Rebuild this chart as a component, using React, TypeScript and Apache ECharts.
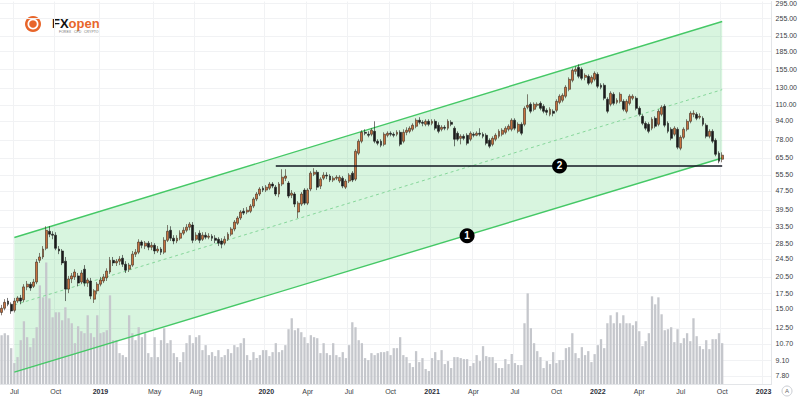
import React, { useEffect, useRef } from "react";
import * as echarts from "echarts";

// ---------- data ----------
const START_UTC = Date.UTC(2018, 5, 4); // first weekly bar (Mon)
const SLOT_COUNT = 242; // weekly slots incl. empty future weeks

const X_LABELS: [number, string][] = [
  [4, "Jul"], [17, "Oct"], [31, "2019"], [48, "May"], [61, "Aug"],
  [83, "2020"], [96, "Apr"], [109, "Jul"], [122, "Oct"],
  [135, "2021"], [148, "Apr"], [161, "Jul"], [174, "Oct"],
  [187, "2022"], [200, "Apr"], [213, "Jul"], [226, "Oct"], [239, "2023"],
];

const Y_TICKS = [295, 255, 215, 185, 155, 130, 110, 94, 78, 65.5, 55.5, 47.5, 39.5, 33.5, 28.5, 24.5, 20.5, 17.5, 15, 12.5, 10.7, 9.1, 7.8];
const PRICE_MIN = 7.214;
const PRICE_MAX = 300.8;

// [open, close, low, high]
const CANDLES: [number, number, number, number][] = [
  [14.5,15.1,14.1,15.6],[15.1,16.0,14.8,16.5],[16.2,15.7,15.4,16.7],[15.7,14.7,14.3,16.0],[14.8,16.2,14.5,16.7],
  [16.2,16.7,15.9,17.0],[16.7,16.2,15.7,17.2],[16.4,18.6,16.0,19.1],[18.6,19.1,18.0,19.7],[19.1,18.4,17.9,19.5],
  [18.7,19.5,18.4,20.1],[19.5,23.7,19.1,24.4],[24.1,24.9,23.5,25.9],[24.9,26.9,24.4,27.7],[27.1,32.3,26.6,33.6],
  [32.0,31.1,30.2,33.6],[31.1,30.8,29.6,32.0],[30.8,27.1,26.6,31.7],[26.9,26.4,25.6,27.7],[26.4,23.5,23.0,26.9],
  [23.9,18.2,16.2,24.9],[18.2,20.1,17.5,20.7],[20.1,20.7,19.3,21.3],[20.5,21.5,19.9,22.1],[20.7,19.3,18.7,21.3],
  [19.5,21.3,19.1,21.9],[22.1,19.3,18.7,23.0],[19.3,19.9,18.6,20.3],[19.7,17.0,16.5,20.3],[16.5,17.9,15.9,18.2],
  [17.9,19.1,17.3,19.5],[19.1,19.9,18.7,20.5],[19.7,20.5,19.3,21.1],[20.3,21.7,19.7,22.3],[21.5,24.1,21.1,24.9],
  [24.1,23.5,22.8,24.9],[23.5,23.9,22.8,24.4],[23.9,24.4,23.0,25.1],[24.6,23.2,22.6,25.4],[23.2,21.9,21.3,23.9],
  [22.1,23.0,21.5,23.5],[23.0,25.6,22.6,26.4],[25.6,26.1,24.9,26.9],[26.1,28.8,25.6,29.6],[28.8,27.9,27.1,29.3],
  [27.7,28.5,26.9,29.1],[28.5,27.4,26.6,29.1],[27.4,27.9,26.6,28.8],[27.9,26.4,25.6,28.5],[26.4,26.9,25.9,27.7],
  [26.9,26.1,25.4,27.4],[26.1,29.3,25.6,30.2],[29.3,32.0,28.8,34.0],[32.3,29.9,29.1,33.6],[29.9,29.1,28.2,30.8],
  [29.1,29.9,28.5,30.8],[29.9,31.4,29.3,32.3],[31.4,32.3,30.8,33.3],[32.3,33.3,31.7,34.3],[33.3,34.3,32.3,35.0],
  [34.0,29.3,28.5,35.0],[29.6,30.8,29.1,31.7],[31.4,29.3,28.5,32.3],[29.6,30.8,29.1,31.7],[30.8,30.2,29.6,31.7],
  [30.2,30.5,29.6,31.4],[30.5,29.9,29.1,31.1],[29.9,29.3,28.5,30.8],[29.6,28.5,27.7,30.2],[29.1,28.2,27.1,29.9],
  [28.5,29.6,27.9,30.5],[29.6,31.1,29.1,31.7],[31.1,32.7,30.5,33.3],[32.7,35.0,32.0,35.7],[34.6,36.4,34.0,37.1],
  [36.4,38.6,35.7,39.3],[38.9,38.2,37.5,40.1],[38.6,39.3,37.8,40.5],[38.9,40.9,38.2,41.7],[40.9,43.8,40.1,44.6],
  [43.8,46.0,42.9,46.9],[46.0,48.3,45.1,49.2],[48.7,47.8,46.9,49.7],[47.8,49.2,46.9,50.2],[48.7,50.7,47.8,51.7],
  [50.7,49.7,48.7,51.7],[49.2,46.0,45.1,50.2],[46.0,50.7,44.6,51.7],[50.7,54.2,49.7,58.6],[53.7,54.8,52.2,58.6],
  [51.2,45.1,44.2,52.2],[45.5,46.4,44.2,47.8],[46.0,41.7,40.5,46.9],[38.6,42.1,36.4,42.9],[41.7,46.0,40.9,46.9],
  [47.8,42.1,41.3,48.7],[42.1,47.8,41.3,48.7],[48.3,56.4,47.3,57.5],[55.8,56.9,54.8,59.2],[56.9,49.2,47.8,58.1],
  [49.7,53.2,48.3,54.2],[53.7,55.3,52.7,56.9],[55.3,54.8,53.2,56.9],[54.8,52.7,51.7,55.8],[52.7,53.7,51.7,54.8],
  [53.7,54.2,52.7,55.3],[52.2,54.2,51.2,55.3],[53.7,49.7,48.7,54.8],[49.2,52.2,48.3,53.2],[52.2,55.3,51.2,56.4],
  [56.4,52.7,51.7,57.5],[53.2,69.8,52.2,71.2],[68.5,77.0,67.2,78.5],[77.0,84.0,75.5,85.7],[84.0,83.2,81.6,86.5],
  [82.4,81.6,80.0,84.8],[82.4,85.7,80.8,87.4],[84.8,77.0,75.5,93.5],[77.0,75.5,74.0,78.5],[77.0,74.0,72.6,78.5],
  [74.7,82.4,73.3,84.0],[81.6,83.2,80.0,84.8],[83.2,82.4,80.8,84.8],[82.4,81.6,80.0,84.0],[82.4,84.0,80.8,85.7],
  [84.0,74.7,73.3,85.7],[77.0,84.0,75.5,86.5],[84.0,85.7,81.6,88.2],[84.8,87.4,83.2,89.1],[86.5,90.0,84.8,91.7],
  [89.1,94.5,87.4,96.3],[94.5,92.6,90.8,97.3],[92.6,91.7,89.1,94.5],[90.8,93.5,89.1,95.4],[93.5,90.8,89.1,95.4],
  [91.7,93.5,90.0,95.4],[93.5,87.4,85.7,95.4],[90.0,84.8,83.2,92.6],[86.5,88.2,84.8,90.0],[88.2,87.4,85.7,90.0],
  [87.4,93.5,85.7,95.4],[92.6,90.8,89.1,94.5],[87.4,78.5,73.3,89.1],[83.2,78.5,77.0,84.8],[79.2,80.8,74.7,82.4],
  [80.8,79.2,77.7,82.4],[81.6,75.5,74.0,83.2],[78.5,83.2,77.0,84.8],[82.4,81.6,80.0,84.0],[81.6,83.2,80.8,84.8],
  [83.2,82.4,80.8,87.4],[82.4,80.8,79.2,84.0],[81.6,75.5,74.0,83.2],[77.7,73.3,71.9,79.2],[74.7,79.2,73.3,80.8],
  [78.5,81.6,77.0,83.2],[80.8,84.8,79.2,86.5],[82.4,85.7,80.8,87.4],[84.0,87.4,82.4,89.1],[86.5,89.1,84.8,90.8],
  [86.5,94.5,84.8,96.3],[94.5,87.4,85.7,96.3],[84.8,90.8,83.2,92.6],[90.8,83.2,81.6,92.6],[90.8,106.1,89.1,108.2],
  [107.2,109.3,105.1,121.7],[110.4,103.1,101.1,112.5],[105.1,110.4,103.1,112.5],[109.3,110.4,107.2,112.5],[111.4,106.1,104.1,113.6],
  [108.2,103.1,101.1,110.4],[104.1,102.1,99.2,106.1],[100.1,105.1,98.2,107.2],[103.1,101.1,98.2,105.1],[104.1,113.6,102.1,115.9],
  [112.5,119.4,110.4,121.7],[114.8,120.5,112.5,122.9],[119.4,130.3,117.1,132.9],[127.8,140.8,125.3,143.6],[139.5,153.7,136.8,156.7],
  [152.2,155.2,147.8,159.8],[158.2,145.0,142.2,162.9],[155.2,142.2,139.5,158.2],[143.6,146.4,139.5,149.3],[145.0,135.5,132.9,147.8],
  [136.8,143.6,134.2,146.4],[140.8,149.3,138.1,152.2],[147.8,131.6,129.1,150.7],[132.9,130.3,127.8,135.5],[132.9,117.1,114.8,135.5],
  [115.9,103.1,101.1,118.2],[110.4,122.9,108.2,125.3],[121.7,111.4,109.3,124.1],[112.5,114.8,110.4,117.1],[113.6,121.7,111.4,124.1],
  [113.6,105.1,103.1,115.9],[103.1,113.6,101.1,115.9],[111.4,119.4,109.3,121.7],[117.1,119.4,114.8,121.7],[117.1,106.1,104.1,119.4],
  [106.1,100.1,98.2,108.2],[98.2,91.7,90.0,100.1],[91.7,87.4,85.7,93.5],[90.8,84.8,83.2,92.6],[87.4,95.4,85.7,97.3],
  [96.3,89.1,87.4,98.2],[90.8,103.1,89.1,105.1],[100.1,107.2,98.2,109.3],[108.2,90.0,88.2,110.4],[91.7,84.8,83.2,93.5],
  [86.5,79.2,77.7,88.2],[82.4,87.4,80.8,89.1],[86.5,72.6,71.2,88.2],[71.9,80.0,70.5,81.6],[80.0,86.5,78.5,88.2],
  [86.5,93.5,84.8,95.4],[93.5,101.1,91.7,103.1],[100.1,101.1,97.3,104.1],[100.1,96.3,94.5,102.1],[97.3,98.2,95.4,101.1],
  [96.3,90.8,89.1,98.2],[90.0,80.8,79.2,91.7],[80.8,84.8,79.2,86.5],[84.8,77.0,75.5,86.5],[77.7,67.8,66.5,79.2],
  [68.5,63.4,62.1,69.8],[64.6,67.2,62.7,69.1],
];

const VOLUME: number[] = [
  49,51,49,36,21,27,44,63,47,37, 46,57,99,87,122,86,67,72,72,64,
  77,66,61,41,58,53,51,69,51,47, 69,51,52,54,89,44,44,31,29,27,
  69,51,44,57,47,51,31,27,47,27, 44,56,41,44,31,27,22,32,41,49,
  41,47,49,34,39,29,32,28,34,27, 29,35,31,39,37,41,46,29,24,32,
  26,29,34,34,28,32,41,32,34,39, 55,66,54,56,52,47,41,49,47,46,
  31,41,31,29,41,29,27,32,26,39, 62,57,44,41,26,24,31,29,31,32,
  32,33,29,36,36,
  47,29,27,21,17,33,22,26,15,13, 26,32,24,34,20,23,16,27,27,26,
  25,25,18,21,29,23,38,28,27,27, 21,16,16,25,20,30,21,19,19,61,
  91,56,41,33,27,16,23,20,32,21, 24,24,36,37,51,31,26,37,29,33,
  22,30,39,45,36,61,69,61,72,61, 69,61,61,59,63,53,38,43,51,88,
  80,87,70,54,55,57,42,55,41,46, 51,43,66,48,38,35,44,35,45,45,
  51,41,
];
const VOLUME_AXIS_MAX = 384;

// channel (parallel lines), [price at start, price at end]
const CHANNEL_START = 4;
const CHANNEL_END = 226;
const CHANNEL_UPPER = [30.1, 247.6];
const CHANNEL_LOWER = [8.1, 65.4];
const CHANNEL_MID = [15.6, 127.3];

const SUPPORT = { from: 86, to: 226, price: 60.5 };
const MARKERS = [
  { index: 146, price: 30.6, label: "1" },
  { index: 175, price: 60.5, label: "2" },
];

// ---------- helpers ----------
const L = Math.log;
const categories: string[] = [];
for (let i = 0; i < SLOT_COUNT; i++) {
  categories.push(new Date(START_UTC + i * 7 * 86400000).toISOString().slice(0, 10));
}
const labelMap = new Map<number, string>(X_LABELS);

export default function App() {
  const ref = useRef<HTMLDivElement>(null);

  useEffect(() => {
    if (!ref.current) return;
    const chart = echarts.init(ref.current, undefined, { renderer: "svg" });
    const font = "Liberation Sans, Arial, sans-serif";

    const option: any = {
      animation: false,
      backgroundColor: "#ffffff",
      grid: { left: 0, right: 26, top: 0, bottom: 13 },
      xAxis: {
        type: "category",
        data: categories,
        boundaryGap: true,
        axisLine: { show: true, lineStyle: { color: "#e3e5e8" } },
        axisTick: { show: false },
        axisLabel: {
          interval: (idx: number) => labelMap.has(idx),
          formatter: (_v: string, idx: number) => {
            const t = labelMap.get(idx) || "";
            return /^\d{4}$/.test(t) ? `{y|${t}}` : t;
          },
          fontSize: 7,
          color: "#3a3e45",
          margin: 4,
          fontFamily: font,
          rich: { y: { fontSize: 7, fontWeight: "bold", color: "#2a2e39", fontFamily: font } },
        },
        splitLine: {
          show: true,
          interval: (idx: number) => labelMap.has(idx),
          lineStyle: { color: "#f1f2f4", width: 1 },
        },
      },
      yAxis: [
        {
          type: "value",
          position: "right",
          min: L(PRICE_MIN),
          max: L(PRICE_MAX),
          axisLine: { show: true, lineStyle: { color: "#e3e5e8" } },
          axisTick: { show: false, customValues: Y_TICKS.map(L) },
          axisLabel: {
            customValues: Y_TICKS.map(L),
            formatter: (v: number) => Math.exp(v).toFixed(2),
            fontSize: 7,
            color: "#3a3e45",
            margin: 4,
            fontFamily: font,
          },
          splitLine: { show: false },
        },
        { type: "value", min: 0, max: VOLUME_AXIS_MAX, show: false },
      ],
      series: [
        {
          name: "grid",
          type: "custom",
          z: 0,
          silent: true,
          data: [[0, L(100)]],
          renderItem: (params: any, api: any) => {
            const cs = params.coordSys;
            return {
              type: "group",
              children: Y_TICKS.map((t) => {
                const y = Math.round(api.coord([0, L(t)])[1]) + 0.5;
                return {
                  type: "line",
                  shape: { x1: cs.x, y1: y, x2: cs.x + cs.width, y2: y },
                  style: { stroke: "#f1f2f4", lineWidth: 1 },
                };
              }),
            };
          },
        },
        {
          name: "channelFill",
          type: "custom",
          z: 1,
          silent: true,
          data: [[CHANNEL_START, L(CHANNEL_LOWER[0])]],
          renderItem: (_params: any, api: any) => {
            const a = api.coord([CHANNEL_START, L(CHANNEL_UPPER[0])]);
            const b = api.coord([CHANNEL_END, L(CHANNEL_UPPER[1])]);
            const c = api.coord([CHANNEL_END, L(CHANNEL_LOWER[1])]);
            const d = api.coord([CHANNEL_START, L(CHANNEL_LOWER[0])]);
            return {
              type: "polygon",
              shape: { points: [a, b, c, d] },
              style: { fill: "rgba(60,205,95,0.2)" },
            };
          },
        },
        {
          name: "volume",
          type: "bar",
          yAxisIndex: 1,
          z: 2,
          barWidth: 2.3,
          silent: true,
          itemStyle: { color: "#c5c7cc" },
          data: VOLUME,
        },
        {
          name: "upper",
          type: "line",
          z: 3,
          symbol: "none",
          silent: true,
          lineStyle: { color: "#45c866", width: 1.4 },
          data: [[CHANNEL_START, L(CHANNEL_UPPER[0])], [CHANNEL_END, L(CHANNEL_UPPER[1])]],
        },
        {
          name: "lower",
          type: "line",
          z: 3,
          symbol: "none",
          silent: true,
          lineStyle: { color: "#45c866", width: 1.4 },
          data: [[CHANNEL_START, L(CHANNEL_LOWER[0])], [CHANNEL_END, L(CHANNEL_LOWER[1])]],
        },
        {
          name: "mid",
          type: "line",
          z: 3,
          symbol: "none",
          silent: true,
          lineStyle: { color: "#86d69a", width: 1, type: [3, 3] },
          data: [[CHANNEL_START, L(CHANNEL_MID[0])], [CHANNEL_END, L(CHANNEL_MID[1])]],
        },
        {
          name: "price",
          type: "candlestick",
          z: 4,
          barWidth: 2.4,
          itemStyle: {
            color: "#c8713e",
            color0: "#1b1b1b",
            borderColor: "#3b2a1f",
            borderColor0: "#1b1b1b",
            borderWidth: 0.6,
          },
          data: CANDLES.map(([o, c, l, h]) => [L(o), L(c), L(l), L(h)]),
        },
        {
          name: "support",
          type: "line",
          z: 5,
          symbol: "none",
          silent: true,
          lineStyle: { color: "#131722", width: 1.6 },
          data: [[SUPPORT.from, L(SUPPORT.price)], [SUPPORT.to, L(SUPPORT.price)]],
        },
        {
          name: "markers",
          type: "scatter",
          z: 6,
          symbolSize: 15,
          silent: true,
          itemStyle: { color: "#000000", opacity: 1 },
          label: {
            show: true,
            position: "inside",
            formatter: (p: any) => MARKERS[p.dataIndex].label,
            color: "#ffffff",
            fontSize: 10,
            fontWeight: "bold",
            fontFamily: font,
          },
          data: MARKERS.map((m) => [m.index, L(m.price)]),
        },
      ],
      graphic: [
        { type: "circle", shape: { cx: 33, cy: 24, r: 8 }, style: { fill: "#e8652a" } },
        { type: "circle", shape: { cx: 33, cy: 24, r: 5.5 }, style: { fill: "#ffffff" } },
        { type: "circle", shape: { cx: 33, cy: 24, r: 3.8 }, style: { fill: "#e8652a" } },
        {
          type: "text",
          x: 52,
          y: 23,
          style: {
            text: "{a|FX}{b|open}",
            verticalAlign: "middle",
            rich: {
              a: { fontSize: 13, fontWeight: "bold", fill: "#111111", fontFamily: font },
              b: { fontSize: 13, fontWeight: "bold", fill: "#e8652a", fontFamily: font },
            },
          },
        },
        {
          type: "text",
          x: 59,
          y: 32,
          style: { text: "FOREX   CFD   CRYPTO", fontSize: 3.5, fill: "#777", fontFamily: font, verticalAlign: "middle" },
        },
        { type: "circle", shape: { cx: 787, cy: 391, r: 5 }, style: { fill: "#fff", stroke: "#c9ccd2", lineWidth: 1 } },
        {
          type: "text",
          x: 787,
          y: 391,
          style: { text: "A", fontSize: 6, fill: "#666", align: "center", verticalAlign: "middle", fontFamily: font },
        },
      ],
    };

    chart.setOption(option);
    return () => chart.dispose();
  }, []);

  return <div ref={ref} style={{ position: "fixed", left: 0, top: 0, width: 800, height: 397 }} />;
}
